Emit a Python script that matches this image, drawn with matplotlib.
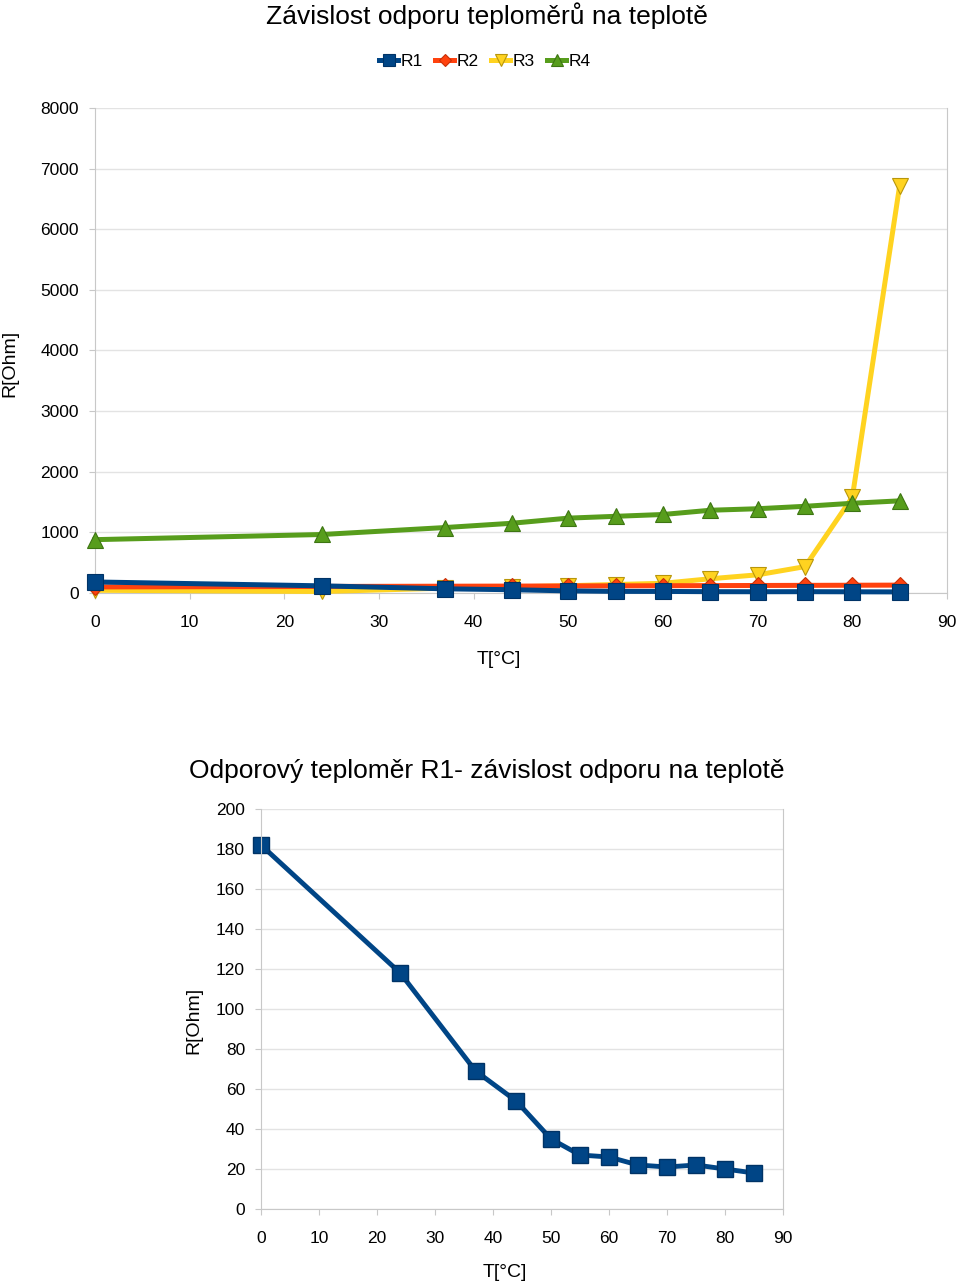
import matplotlib.pyplot as plt
from matplotlib.ticker import MultipleLocator

plt.rcParams['font.family'] = ['Liberation Sans', 'DejaVu Sans']

# temperature [°C]
t = [0, 24, 37, 44, 50, 55, 60, 65, 70, 75, 80, 85]

# resistance [Ohm]
r1 = [182, 118, 69, 54, 35, 27, 26, 22, 21, 22, 20, 18]
r2 = [100, 108, 112, 114, 116, 118, 120, 122, 124, 126, 128, 130]
r3 = [45, 25, 80, 100, 120, 140, 160, 235, 300, 435, 1580, 6720]
r4 = [880, 965, 1080, 1150, 1235, 1265, 1295, 1365, 1390, 1430, 1480, 1520]

names = ["R1", "R2", "R3", "R4"]
colors = ["#004586", "#ff420e", "#ffd320", "#579d1c"]
edges = ["#003366", "#c83008", "#b8960a", "#3d7512"]
markers = ["s", "D", "v", "^"]
zorders = [6, 5, 3, 4]

grid_c = "#e3e3e3"
spine_c = "#c8c8c8"

fig = plt.figure(figsize=(9.6, 12.83), dpi=100)
W, H = 960, 1283


def axes_px(left, top, right, bottom):
    return fig.add_axes([left / W, 1 - bottom / H, (right - left) / W, (bottom - top) / H])


def style(ax):
    ax.grid(axis="y", color=grid_c, linewidth=1)
    ax.set_axisbelow(True)
    for s in ["left", "bottom", "right"]:
        ax.spines[s].set_color(spine_c)
    ax.spines["top"].set_visible(False)
    ax.tick_params(axis="both", colors=spine_c, labelcolor="black", labelsize=12.5, length=4)
    ax.tick_params(axis="x", pad=12)
    ax.tick_params(axis="y", pad=7.5)


# top chart
ax1 = axes_px(95, 108, 947, 593)
for ys, n, c, e, m, z in zip([r1, r2, r3, r4], names, colors, edges, markers, zorders):
    ax1.plot(t, ys, color=c, linewidth=3.6, marker=m, markersize=11 if m != "D" else 8,
             markerfacecolor=c, markeredgecolor=e, markeredgewidth=0.8, label=n, zorder=z,
             clip_on=False)
ax1.set_xlim(0, 90)
ax1.set_ylim(0, 8000)
ax1.xaxis.set_major_locator(MultipleLocator(10))
ax1.yaxis.set_major_locator(MultipleLocator(1000))
style(ax1)
ax1.set_xlabel("T[°C]", fontsize=14)
ax1.xaxis.set_label_coords((499 - 95) / 852, (593 - 651) / 485)
ax1.set_ylabel("R[Ohm]", fontsize=14)
ax1.yaxis.set_label_coords((18 - 95) / 852, (593 - 363) / 485)
fig.text(487 / W, 1 - 16 / H, "Závislost odporu teploměrů na teplotě", fontsize=19,
         ha="center", va="center")
h, l = ax1.get_legend_handles_labels()
fig.legend(h, l, loc="center", bbox_to_anchor=(485 / W, 1 - 61 / H), ncol=4, frameon=False,
           fontsize=12.5, handlelength=1.1, handletextpad=0.15, columnspacing=0.7,
           markerscale=0.8)

# bottom chart
ax2 = axes_px(261, 809, 783, 1209)
ax2.plot(t, r1, color=colors[0], linewidth=3.5, marker="s", markersize=11,
         markerfacecolor=colors[0], markeredgecolor=edges[0], clip_on=False)
ax2.set_xlim(0, 90)
ax2.set_ylim(0, 200)
ax2.xaxis.set_major_locator(MultipleLocator(10))
ax2.yaxis.set_major_locator(MultipleLocator(20))
style(ax2)
ax2.set_xlabel("T[°C]", fontsize=14)
ax2.xaxis.set_label_coords((505 - 261) / 522, (1209 - 1264) / 400)
ax2.set_ylabel("R[Ohm]", fontsize=14)
ax2.yaxis.set_label_coords((202 - 261) / 522, (1209 - 1020) / 400)
fig.text(487 / W, 1 - 771 / H, "Odporový teploměr R1- závislost odporu na teplotě",
         fontsize=19, ha="center", va="center")

fig.savefig("out.png", dpi=100)
